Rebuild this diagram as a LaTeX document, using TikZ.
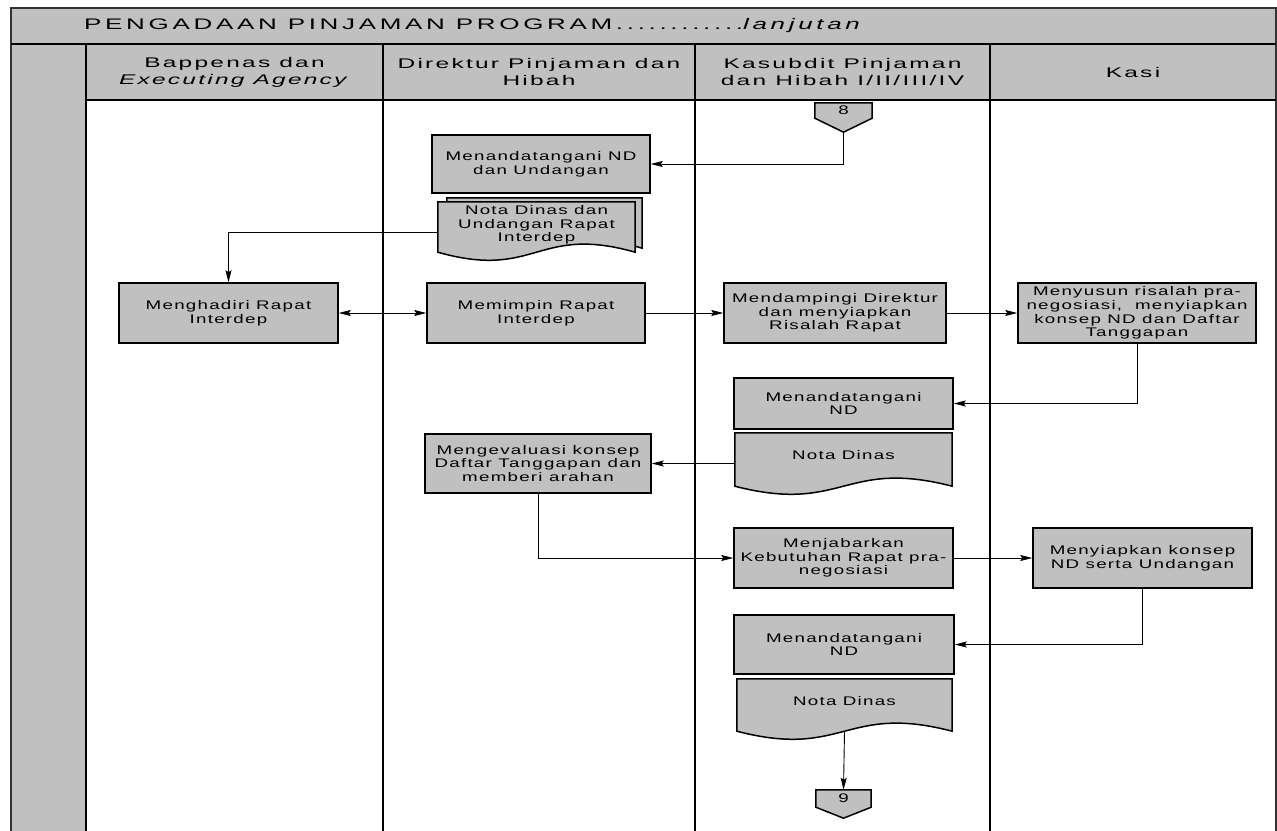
\documentclass[tikz,border=0pt]{standalone}
\usepackage{fontspec}
\setmainfont{Liberation Sans}[FakeStretch=1.5,LetterSpace=10]
\newfontfamily\headfont{Liberation Sans}[FakeStretch=1.75,LetterSpace=16]
\newfontfamily\titlefont{Liberation Sans}[FakeStretch=1.7,LetterSpace=24]
\usetikzlibrary{calc,arrows.meta,backgrounds}
\definecolor{boxgray}{RGB}{192,192,192}

% 文档形状（下边波浪）
\newcommand{\docshape}[2]{%
  \draw[shapeline] (#1.north west) -- (#1.north east) -- ($(#1.south east)+(0,#2)$)
    .. controls ($(#1.south)+(0,#2-28)$) and ($(#1.south)+(0,#2+28)$) .. ($(#1.south west)+(0,#2)$) -- cycle;
  \coordinate (#1-b) at ($(#1.south)+(0,#2)$);
}
% 跨页连接符（五边形）
\newcommand{\offpage}[2]{%
  \draw[shapeline] (#1.north west) -- (#1.north east) -- (#1.south east)
    -- ($(#1.south)+(0,#2)$) -- (#1.south west) -- cycle;
  \coordinate (#1-tip) at ($(#1.south)+(0,#2)$);
}

\begin{document}
\begin{tikzpicture}[x=1pt, y=-1pt,
  proc/.style={draw, fill=boxgray, line width=1.5pt, align=center, inner sep=2pt,
    font=\fontsize{12.5}{13.6}\selectfont},
  doc/.style={align=center, inner sep=2pt, font=\fontsize{12.5}{13.6}\selectfont},
  shapeline/.style={draw=black, fill=boxgray, line width=1.5pt},
  laneline/.style={line width=2pt},
  frameline/.style={line width=1.5pt, draw=black!80},
  conn/.style={line width=0.9pt, ->},
  >={Stealth[length=12pt,width=6pt,inset=2pt]},
  head/.style={align=center, font=\headfont\fontsize{14}{17}\selectfont}]

  % 泳道分隔位置
  \pgfmathsetmacro{\xA}{86}
  \pgfmathsetmacro{\xB}{383}
  \pgfmathsetmacro{\xC}{695}
  \pgfmathsetmacro{\xD}{990}

  \useasboundingbox (0,0) rectangle (1277,830);
  \clip (0,0) rectangle (1277,830);

  % ---- 外框与泳道 ----
  \fill[boxgray] (11,8) rectangle (1276,100);
  \fill[boxgray] (11,44) rectangle (\xA,840);
  \draw[frameline] (11,840) -- (11,8) -- (1276,8) -- (1276,840);
  \draw[laneline] (11,44) -- (1276,44);
  \draw[laneline] (\xA,100) -- (1276,100);
  \foreach \x in {\xA,\xB,\xC,\xD}
    \draw[laneline] (\x,44) -- (\x,840);

  % 标题与表头
  \node[anchor=west, inner sep=0pt, font=\titlefont\fontsize{15.3}{17}\selectfont] (judul) at (84,26)
    {PENGADAAN PINJAMAN PROGRAM............\textit{lanjutan}};
  \node[head] (h1) at (234.5,72) {Bappenas dan\\\textit{Executing Agency}};
  \node[head] (h2) at (539,72) {Direktur Pinjaman dan\\Hibah};
  \node[head] (h3) at (842.5,72) {Kasubdit Pinjaman\\dan Hibah I/II/III/IV};
  \node[head] (h4) at (1133,72) {Kasi};

  % ---- 流程框 ----
  \node[doc, minimum width=57, minimum height=15] (c8) at (843.5,110.5) {8};
  \node[proc, minimum width=218, minimum height=58] (ttd1) at (541,164)
    {Menandatangani ND\\dan Undangan};
  \node[doc, minimum width=195, minimum height=46] (ndub) at (544.5,221) {};
  \node[doc, minimum width=197, minimum height=46] (ndu) at (536.5,225)
    {Nota Dinas dan\\Undangan Rapat\\Interdep};

  \node[proc, minimum width=219, minimum height=60] (hadir) at (228.5,313)
    {Menghadiri Rapat\\Interdep};
  \node[proc, minimum width=218, minimum height=60] (pimpin) at (536,313)
    {Memimpin Rapat\\Interdep};
  \node[proc, minimum width=222, minimum height=60] (damping) at (835,313)
    {Mendampingi Direktur\\dan menyiapkan\\Risalah Rapat};
  \node[proc, minimum width=238, minimum height=60] (susun) at (1137,313)
    {Menyusun risalah pra-\\negosiasi,~ menyiapkan\\konsep ND dan Daftar\\Tanggapan};

  \node[proc, minimum width=219, minimum height=51] (ttd2) at (843.5,403.5)
    {Menandatangani\\ND};
  \node[doc, minimum width=217, minimum height=44] (nota2) at (843.5,455) {Nota Dinas};
  \node[proc, minimum width=226, minimum height=59] (eval) at (538,463.5)
    {Mengevaluasi konsep\\Daftar Tanggapan dan\\memberi arahan};

  \node[proc, minimum width=219, minimum height=60] (jabar) at (843.5,558)
    {Menjabarkan\\Kebutuhan Rapat pra-\\negosiasi};
  \node[proc, minimum width=219, minimum height=60] (siap) at (1142.5,558)
    {Menyiapkan konsep\\ND serta Undangan};

  \node[proc, minimum width=220, minimum height=59] (ttd3) at (844,644.5)
    {Menandatangani\\ND};
  \node[doc, minimum width=215, minimum height=44] (nota3) at (844.5,701) {Nota Dinas};
  \node[doc, minimum width=55, minimum height=17] (c9) at (843.5,798.5) {9};

  % 文档与连接符的外形
  \begin{pgfonlayer}{background}
    \offpage{c8}{14}
    \docshape{ndub}{4}
    \docshape{ndu}{4}
    \docshape{nota2}{9}
    \docshape{nota3}{8}
    \offpage{c9}{11}
  \end{pgfonlayer}

  % ---- 连线 ----
  \draw[conn] (c8-tip) |- (ttd1.east);
  \draw[conn] ([yshift=-7pt]ndu.west) -| (hadir.north);
  \draw[line width=0.9pt, <->] (hadir.east) -- (pimpin.west);
  \draw[conn] (pimpin.east) -- (damping.west);
  \draw[conn] (damping.east) -- (susun.west);
  \draw[conn] (susun.south) |- (ttd2.east);
  \draw[conn] (eval.east -| nota2.west) -- (eval.east);
  \draw[conn] (eval.south) |- (jabar.west);
  \draw[conn] (jabar.east) -- (siap.west);
  \draw[conn] (siap.south) |- (ttd3.east);
  \draw[conn] (nota3-b) -- (c9.north);

\end{tikzpicture}
\end{document}
